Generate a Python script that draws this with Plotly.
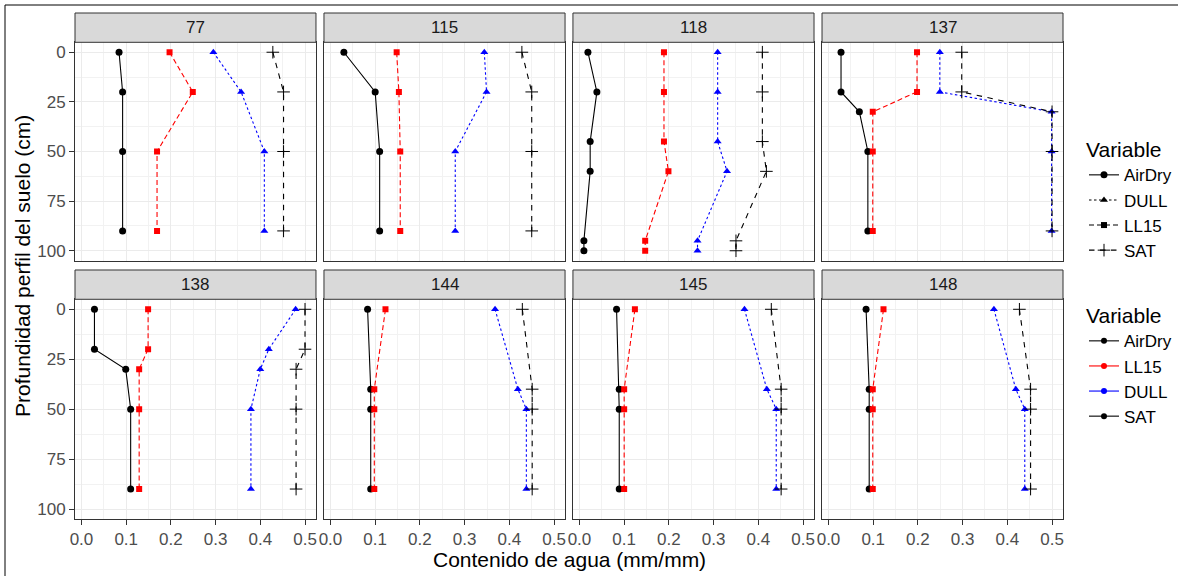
import plotly.graph_objects as go

# ---------------- data ----------------
SITES = ["77", "115", "118", "137", "138", "144", "145", "148"]

DEPTH = {
    "77": [0, 20, 50, 90],
    "115": [0, 20, 50, 90],
    "118": [0, 20, 45, 60, 95, 100],
    "137": [0, 20, 30, 50, 90],
    "138": [0, 20, 30, 50, 90],
    "144": [0, 40, 50, 90],
    "145": [0, 40, 50, 90],
    "148": [0, 40, 50, 90],
}
AIRDRY = {
    "77": [0.084, 0.092, 0.092, 0.092],
    "115": [0.030, 0.100, 0.110, 0.110],
    "118": [0.019, 0.039, 0.024, 0.024, 0.010, 0.010],
    "137": [0.028, 0.028, 0.069, 0.088, 0.088],
    "138": [0.029, 0.029, 0.099, 0.110, 0.110],
    "144": [0.083, 0.090, 0.090, 0.090],
    "145": [0.083, 0.089, 0.089, 0.089],
    "148": [0.084, 0.091, 0.091, 0.091],
}
LL15 = {
    "77": [0.197, 0.249, 0.169, 0.169],
    "115": [0.148, 0.153, 0.156, 0.156],
    "118": [0.189, 0.189, 0.189, 0.199, 0.147, 0.147],
    "137": [0.198, 0.198, 0.099, 0.099, 0.099],
    "138": [0.149, 0.149, 0.129, 0.129, 0.129],
    "144": [0.123, 0.098, 0.098, 0.098],
    "145": [0.124, 0.100, 0.100, 0.100],
    "148": [0.123, 0.099, 0.099, 0.099],
}
DULL = {
    "77": [0.295, 0.357, 0.409, 0.409],
    "115": [0.344, 0.349, 0.279, 0.279],
    "118": [0.309, 0.309, 0.309, 0.330, 0.264, 0.264],
    "137": [0.249, 0.249, 0.499, 0.499, 0.499],
    "138": [0.479, 0.419, 0.400, 0.379, 0.379],
    "144": [0.368, 0.419, 0.438, 0.438],
    "145": [0.369, 0.419, 0.440, 0.440],
    "148": [0.370, 0.419, 0.439, 0.439],
}
SAT = {
    "77": [0.428, 0.452, 0.452, 0.452],
    "115": [0.428, 0.450, 0.450, 0.450],
    "118": [0.409, 0.409, 0.409, 0.418, 0.350, 0.350],
    "137": [0.298, 0.298, 0.500, 0.500, 0.500],
    "138": [0.500, 0.500, 0.480, 0.480, 0.480],
    "144": [0.429, 0.451, 0.451, 0.451],
    "145": [0.429, 0.451, 0.451, 0.451],
    "148": [0.427, 0.452, 0.452, 0.452],
}

X_TICKS = [0.0, 0.1, 0.2, 0.3, 0.4, 0.5]
X_TICKTEXT = ["0.0", "0.1", "0.2", "0.3", "0.4", "0.5"]
Y_TICKS = [0, 25, 50, 75, 100]

# ---------------- styles ----------------
FONT = "Liberation Sans, Arial, sans-serif"
SMALL, BIG = 17, 21
STYLE = {
    "AirDry": dict(color="black", dash="solid", symbol="circle", size=7),
    "DULL": dict(color="#0000FF", dash="2.5px,2.5px", symbol="triangle-up", size=7),
    "LL15": dict(color="#FF0000", dash="5px,3px", symbol="square", size=6),
    "SAT": dict(color="black", dash="5.5px,5.5px", symbol="cross-thin", size=9),
}
SERIES = [("AirDry", AIRDRY), ("DULL", DULL), ("LL15", LL15), ("SAT", SAT)]

fig = go.Figure()

# layout geometry (paper fractions)
ML, MR, MT, MB = 75, 115, 13, 57
W, H = 1178, 576
PW, PH = W - ML - MR, H - MT - MB
col_dom = [[0.0, 0.2439], [0.2520, 0.4960], [0.5040, 0.7480], [0.7561, 1.0]]
row_dom = [[0.5105, 0.9421], [0.0, 0.4342]]
strip_dom = [[0.9421, 1.0], [0.4342, 0.4921]]

shapes = []
annotations = []

for i, site in enumerate(SITES):
    r, c = divmod(i, 4)
    n = i + 1
    xa = "x" if n == 1 else f"x{n}"
    ya = "y" if n == 1 else f"y{n}"
    for name, data in SERIES:
        st = STYLE[name]
        m = dict(symbol=st["symbol"], size=st["size"], color=st["color"])
        if st["symbol"] == "cross-thin":
            m["line"] = dict(color=st["color"], width=1)
        fig.add_trace(go.Scatter(
            x=data[site], y=DEPTH[site], xaxis=xa, yaxis=ya,
            mode="lines+markers",
            line=dict(color=st["color"], dash=st["dash"], width=1.1),
            marker=m, showlegend=False, hoverinfo="skip",
        ))
    xkey = "xaxis" if n == 1 else f"xaxis{n}"
    ykey = "yaxis" if n == 1 else f"yaxis{n}"
    bottom = r == 1
    left = c == 0
    fig.update_layout(**{
        xkey: dict(
            domain=col_dom[c], anchor=ya, range=[-0.0145, 0.5245],
            tickvals=X_TICKS, ticktext=X_TICKTEXT,
            showticklabels=bottom, ticks="outside" if bottom else "",
            ticklen=5, tickwidth=1, tickcolor="#333333",
            tickfont=dict(family=FONT, size=SMALL, color="#4D4D4D"),
            showgrid=True, gridcolor="#EBEBEB", gridwidth=1.2,
            minor=dict(tick0=0.05, dtick=0.1, showgrid=True, gridcolor="#F2F2F2", gridwidth=0.7, ticks=""),
            showline=True, mirror=True, linecolor="#333333", linewidth=1,
            zeroline=False,
        ),
        ykey: dict(
            domain=row_dom[r], anchor=xa, range=[105, -5],
            tickvals=Y_TICKS,
            showticklabels=left, ticks="outside" if left else "",
            ticklen=5, tickwidth=1, tickcolor="#333333",
            tickfont=dict(family=FONT, size=SMALL, color="#4D4D4D"),
            showgrid=True, gridcolor="#EBEBEB", gridwidth=1.2,
            minor=dict(tick0=12.5, dtick=25, showgrid=True, gridcolor="#F2F2F2", gridwidth=0.7, ticks=""),
            showline=True, mirror=True, linecolor="#333333", linewidth=1,
            zeroline=False,
        ),
    })
    # strip
    shapes.append(dict(type="rect", xref="paper", yref="paper",
                       x0=col_dom[c][0], x1=col_dom[c][1],
                       y0=strip_dom[r][0], y1=strip_dom[r][1],
                       fillcolor="#D9D9D9", line=dict(color="#333333", width=1), layer="above"))
    annotations.append(dict(text=site, xref="paper", yref="paper",
                            x=(col_dom[c][0] + col_dom[c][1]) / 2,
                            y=(strip_dom[r][0] + strip_dom[r][1]) / 2,
                            showarrow=False, xanchor="center", yanchor="middle",
                            font=dict(family=FONT, size=SMALL, color="#1A1A1A")))

# legend 1: linetype + shape
for name in ["AirDry", "DULL", "LL15", "SAT"]:
    st = STYLE[name]
    m = dict(symbol=st["symbol"], size=st["size"], color="black")
    if st["symbol"] == "cross-thin":
        m["line"] = dict(color="black", width=1)
    fig.add_trace(go.Scatter(x=[None], y=[None], mode="lines+markers", name=name,
                             line=dict(color="black", dash=st["dash"], width=1.1),
                             marker=m, legend="legend", showlegend=True))
# legend 2: colour
for name in ["AirDry", "LL15", "DULL", "SAT"]:
    st = STYLE[name]
    fig.add_trace(go.Scatter(x=[None], y=[None], mode="lines+markers", name=name,
                             line=dict(color=st["color"], dash="solid", width=1.1),
                             marker=dict(symbol="circle", size=6, color=st["color"]),
                             legend="legend2", showlegend=True))

# axis titles
annotations.append(dict(text="Contenido de agua (mm/mm)", xref="paper", yref="paper",
                        x=0.5, y=(H - MB - 559) / PH, showarrow=False,
                        xanchor="center", yanchor="middle",
                        font=dict(family=FONT, size=BIG, color="black")))
annotations.append(dict(text="Profundidad perfil del suelo (cm)", xref="paper", yref="paper",
                        x=(22 - ML) / PW, y=0.5, showarrow=False, textangle=-90,
                        xanchor="center", yanchor="middle",
                        font=dict(family=FONT, size=BIG, color="black")))

# outer frame (left and top edges)
shapes.append(dict(type="line", xref="paper", yref="paper",
                   x0=(5 - ML) / PW, x1=(5 - ML) / PW, y0=(H - MB - 5) / PH, y1=-0.2,
                   line=dict(color="black", width=1)))
shapes.append(dict(type="line", xref="paper", yref="paper",
                   x0=(5 - ML) / PW, x1=1.2, y0=(H - MB - 5) / PH, y1=(H - MB - 5) / PH,
                   line=dict(color="black", width=1)))

leg_common = dict(xref="container", yref="container", xanchor="left", yanchor="top",
                  bgcolor="rgba(0,0,0,0)", font=dict(family=FONT, size=SMALL, color="black"),
                  itemwidth=30, tracegroupgap=0)
fig.update_layout(
    width=W, height=H,
    margin=dict(l=ML, r=MR, t=MT, b=MB, autoexpand=False),
    paper_bgcolor="white", plot_bgcolor="white",
    shapes=shapes, annotations=annotations,
    legend=dict(x=1084 / W, y=1 - 130 / H,
                title=dict(text="Variable", font=dict(family=FONT, size=BIG, color="black")),
                **leg_common),
    legend2=dict(x=1084 / W, y=1 - 296 / H,
                 title=dict(text="Variable", font=dict(family=FONT, size=BIG, color="black")),
                 **leg_common),
)

fig.write_html("out.html")
